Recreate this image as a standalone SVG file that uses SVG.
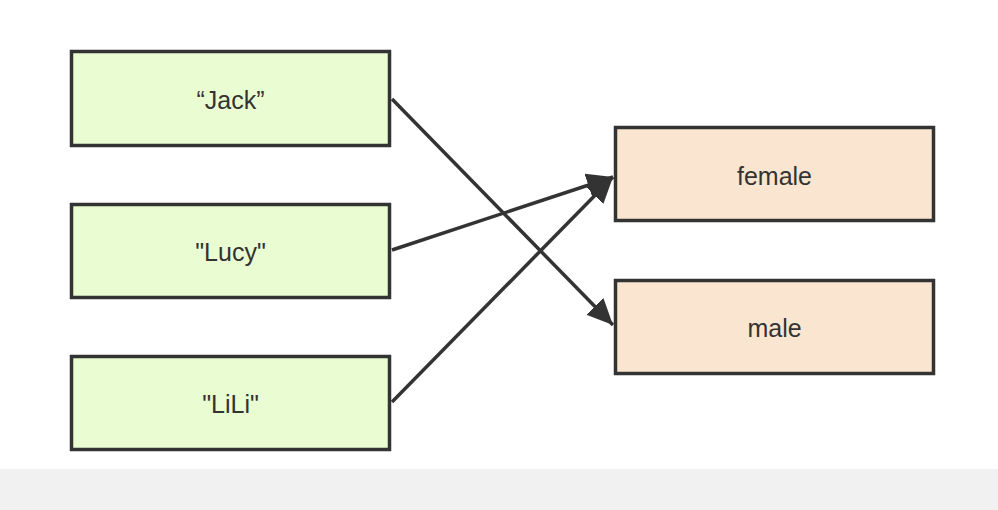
<svg xmlns="http://www.w3.org/2000/svg" width="998" height="510" viewBox="0 0 998 510">
<style>
.box{stroke:#333;stroke-width:3.5}
.src{fill:#eafcd2}
.dst{fill:#fae6d0}
.lbl{font-family:"Liberation Sans",Arial,sans-serif;font-size:25px;fill:#333;text-anchor:middle;dominant-baseline:central}
.edge{stroke:#333;stroke-width:3.5;fill:none}
</style>
<defs>
<marker id="ah" markerUnits="userSpaceOnUse" markerWidth="28" markerHeight="24" refX="26" refY="12" orient="auto">
<path d="M0,0 L26,12 L0,24 Z" fill="#333"/>
</marker>
</defs>
<rect x="0" y="0" width="998" height="510" fill="#fff"/>
<rect x="0" y="469" width="998" height="41" fill="#f1f1f1"/>
<g id="jack"><rect class="box src" x="71.5" y="51.5" width="318" height="94"/><text class="lbl" x="230.5" y="100">“Jack”</text></g>
<g id="lucy"><rect class="box src" x="71.5" y="204.5" width="318" height="93"/><text class="lbl" x="230.5" y="252">"Lucy"</text></g>
<g id="lili"><rect class="box src" x="71.5" y="356.5" width="318" height="93"/><text class="lbl" x="230.5" y="404">"LiLi"</text></g>
<g id="female"><rect class="box dst" x="615.5" y="127.5" width="318" height="93"/><text class="lbl" x="774.5" y="176">female</text></g>
<g id="male"><rect class="box dst" x="615.5" y="280.5" width="318" height="93"/><text class="lbl" x="774.5" y="328">male</text></g>
<g id="connectors">
<line class="edge" x1="392" y1="99" x2="613" y2="325" marker-end="url(#ah)"/>
<line class="edge" x1="392" y1="250" x2="613" y2="177" marker-end="url(#ah)"/>
<line class="edge" x1="392" y1="402" x2="613" y2="177" marker-end="url(#ah)"/>
</g>
</svg>
